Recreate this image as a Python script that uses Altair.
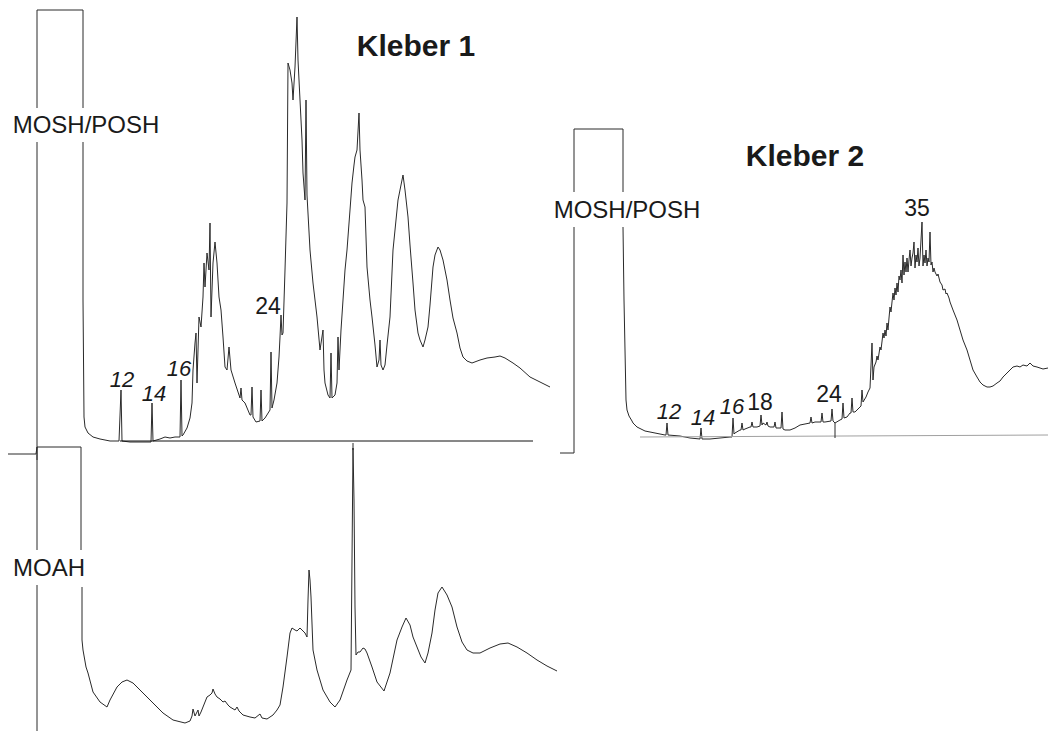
import altair as alt
import pandas as pd

# ---------------- Kleber 1 (MOSH/POSH) trace segments ----------------
K1_LEFT_X = [37, 37]
K1_LEFT_Y = [460, 142]
K1_TOP_X = [37, 37, 83, 83]
K1_TOP_Y = [108, 10, 10, 108]
K1_TRACE_X = [83, 83, 84, 85, 88, 93, 100, 110, 119, 121, 122, 130, 140, 151, 152, 153, 160, 165, 170, 175,
              180, 181, 182, 183, 187, 190, 192, 193, 195, 196, 197, 199, 201, 203, 204, 205, 207, 209, 210, 211,
              213, 215, 217, 219, 221, 223, 225, 227, 229, 231, 235, 240, 241, 242, 245, 250, 251, 252, 253, 256,
              260, 261, 262, 265, 270, 271, 272, 274, 277, 279, 280, 281, 282, 283, 285, 287, 288, 290, 292, 293,
              295, 297, 298, 300, 302, 303, 305, 306, 307, 310, 313, 317, 320, 323, 324, 325, 328, 330, 331, 332,
              335, 337, 338, 339, 341, 343, 345, 347, 350, 352, 354, 355, 357, 359, 360, 362, 363, 365, 367, 370,
              372, 375, 377, 379, 380, 381, 383, 385, 387, 390, 393, 395, 398, 401, 403, 405, 408, 410, 413, 415,
              418, 420, 423, 425, 428, 430, 433, 435, 438, 440, 443, 447, 450, 453, 457, 460, 463, 467, 472, 480,
              487, 495, 500, 505, 513, 520, 530, 540, 550]
K1_TRACE_Y = [142, 300, 417, 427, 433, 437, 439, 441, 441, 390, 441, 442, 442, 442, 403, 441, 439, 437, 438, 437,
              437, 380, 436, 435, 428, 418, 403, 370, 343, 333, 383, 317, 327, 297, 263, 287, 253, 270, 223, 317,
              263, 242, 263, 297, 310, 337, 367, 370, 347, 370, 383, 398, 388, 400, 403, 415, 415, 387, 417, 422,
              421, 390, 421, 418, 410, 352, 408, 400, 383, 357, 337, 315, 335, 333, 270, 203, 63, 70, 83, 100,
              67, 17, 60, 100, 140, 173, 200, 100, 195, 250, 283, 317, 350, 330, 370, 383, 395, 398, 353, 398,
              395, 383, 337, 370, 330, 300, 270, 250, 210, 183, 165, 157, 150, 113, 150, 180, 200, 207, 267, 300,
              317, 345, 367, 360, 340, 365, 370, 365, 345, 317, 250, 230, 200, 185, 175, 190, 217, 245, 283, 310,
              333, 340, 347, 340, 327, 305, 267, 255, 247, 250, 260, 280, 300, 318, 333, 348, 357, 361, 363, 360,
              358, 357, 356, 358, 363, 368, 377, 382, 387]
K1_BASE_X = [120, 533]
K1_BASE_Y = [441, 441]
K1_TICK_X = [353, 353]
K1_TICK_Y = [443, 450]

# ---------------- Kleber 1 (MOAH) trace segments ----------------
MOAH_TOP_X = [8, 36, 37, 81, 81]
MOAH_TOP_Y = [454, 454, 447, 447, 550]
MOAH_LEFT1_X = [37, 37]
MOAH_LEFT1_Y = [447, 550]
MOAH_LEFT2_X = [37, 37]
MOAH_LEFT2_Y = [585, 731]
MOAH_TRACE_X = [82, 82, 83, 86, 88, 93, 100, 107, 110, 117, 122, 127, 133, 143, 153, 163, 173, 185, 190, 192,
                193, 195, 197, 198, 199, 201, 203, 207, 210, 212, 213, 215, 217, 220, 223, 225, 228, 230, 235, 237,
                239, 243, 250, 255, 260, 262, 267, 273, 277, 280, 283, 287, 290, 292, 295, 297, 300, 302, 305, 307,
                308, 309, 310, 311, 313, 317, 323, 330, 335, 340, 347, 351, 352, 353, 354, 355, 356, 358, 360, 363,
                365, 367, 372, 377, 384, 390, 397, 402, 406, 410, 413, 417, 421, 425, 428, 429, 432, 435, 438, 442,
                447, 452, 457, 462, 467, 473, 480, 490, 500, 508, 517, 527, 537, 547, 557]
MOAH_TRACE_Y = [587, 640, 650, 667, 673, 692, 702, 707, 700, 687, 682, 680, 683, 693, 703, 713, 720, 723, 721, 716,
                709, 716, 712, 710, 716, 712, 707, 697, 695, 693, 689, 694, 697, 699, 702, 701, 705, 707, 710, 707,
                711, 715, 717, 718, 714, 718, 719, 715, 710, 705, 687, 657, 633, 628, 630, 631, 628, 630, 633, 637,
                600, 570, 580, 597, 650, 670, 690, 702, 707, 700, 680, 670, 560, 448, 500, 607, 655, 652, 652, 648,
                649, 653, 667, 682, 691, 673, 640, 627, 618, 625, 637, 647, 657, 663, 653, 648, 633, 610, 593, 587,
                595, 607, 627, 642, 650, 653, 653, 648, 644, 643, 647, 653, 660, 666, 671]

# ---------------- Kleber 2 (MOSH/POSH) trace segments ----------------
K2_LEFT_X = [560, 574, 574]
K2_LEFT_Y = [453, 453, 227]
K2_TOP_X = [574, 574, 623, 623]
K2_TOP_Y = [192, 129, 129, 192]
K2_TRACE_X = [623, 624, 626, 627, 629, 632, 633, 637, 645, 655, 665, 666, 667, 668, 680, 690, 700, 701, 702, 710,
              720, 730, 732, 733, 734, 735, 740, 741, 742, 743, 745, 750, 751, 752, 753, 757, 760, 761, 762, 763,
              766, 767, 768, 770, 774, 775, 776, 780, 781, 782, 783, 785, 790, 795, 800, 805, 810, 811, 812, 815,
              821, 822, 823, 825, 831, 832, 833, 835, 840, 842, 843, 844, 847, 850, 851, 852, 853, 855, 857, 860,
              861, 862, 863, 866, 868, 870, 872, 873, 874, 876, 877, 878, 880, 881, 883, 884, 885, 886, 887, 888,
              889, 890, 891, 892, 893, 894, 895, 896, 897, 898, 899, 900, 901, 902, 903, 904, 905, 906, 907, 908,
              909, 910, 911, 912, 913, 914, 915, 916, 917, 918, 919, 920, 921, 922, 923, 924, 925, 926, 927, 928,
              929, 930, 931, 932, 933, 934, 935, 937, 938, 940, 942, 943, 945, 946, 947, 949, 950, 953, 957, 960,
              963, 967, 970, 973, 977, 980, 983, 987, 990, 993, 997, 1000, 1003, 1007, 1010, 1013, 1017, 1020, 1023,
              1027, 1030, 1033, 1037, 1043, 1048]
K2_TRACE_Y = [227, 300, 400, 410, 416, 421, 423, 427, 431, 433, 435, 435, 423, 435, 436, 438, 439, 428, 439, 439,
              438, 437, 437, 418, 434, 433, 430, 430, 423, 430, 429, 427, 427, 422, 427, 427, 426, 415, 425, 423,
              425, 422, 426, 427, 427, 422, 428, 428, 428, 412, 429, 430, 430, 428, 425, 424, 423, 417, 423, 422,
              422, 413, 422, 422, 421, 409, 421, 423, 420, 419, 403, 418, 417, 413, 413, 398, 412, 412, 410, 407,
              406, 390, 402, 397, 392, 388, 343, 380, 367, 362, 356, 360, 347, 350, 333, 338, 330, 336, 323, 330,
              318, 307, 312, 302, 293, 300, 288, 295, 283, 292, 276, 280, 270, 283, 255, 275, 262, 272, 258, 272,
              260, 250, 266, 258, 253, 242, 268, 255, 262, 248, 266, 258, 240, 222, 266, 255, 263, 250, 266, 258,
              262, 232, 265, 262, 272, 268, 272, 276, 274, 282, 285, 290, 289, 294, 293, 298, 302, 310, 320, 330,
              340, 350, 360, 370, 377, 382, 385, 387, 387, 386, 383, 381, 377, 373, 370, 367, 366, 367, 365,
              366, 363, 366, 367, 369, 368]
K2_BASE_X = [640, 1048]
K2_BASE_Y = [437, 435]
K2_TICK_X = [835, 835]
K2_TICK_Y = [423, 438]

# ---------------- labels ----------------
TITLE_TEXT = ["Kleber 1", "Kleber 2"]
TITLE_X = [416, 805]
TITLE_Y = [47, 157]
FRACTION_TEXT = ["MOSH/POSH", "MOSH/POSH", "MOAH"]
FRACTION_X = [86, 627, 49]
FRACTION_Y = [126, 211, 569]
ITALIC_TEXT = ["12", "14", "16", "12", "14", "16"]
ITALIC_X = [122, 154, 179, 669, 703, 732]
ITALIC_Y = [380, 394, 369, 412, 418, 407]
UPRIGHT_TEXT = ["24", "18", "24", "35"]
UPRIGHT_X = [268, 760, 829, 917]
UPRIGHT_Y = [307, 403, 395, 209]

# ---------------- build tables ----------------
def seg(name, xs, ys, kind):
    return pd.DataFrame({"seg": name, "ord": range(len(xs)), "t": xs, "s": ys, "kind": kind})

traces = pd.concat([
    seg("k1_left", K1_LEFT_X, K1_LEFT_Y, "trace"),
    seg("k1_top", K1_TOP_X, K1_TOP_Y, "trace"),
    seg("k1_trace", K1_TRACE_X, K1_TRACE_Y, "trace"),
    seg("k1_base", K1_BASE_X, K1_BASE_Y, "base1"),
    seg("k1_tick", K1_TICK_X, K1_TICK_Y, "trace"),
    seg("moah_top", MOAH_TOP_X, MOAH_TOP_Y, "trace"),
    seg("moah_left1", MOAH_LEFT1_X, MOAH_LEFT1_Y, "trace"),
    seg("moah_left2", MOAH_LEFT2_X, MOAH_LEFT2_Y, "trace"),
    seg("moah_trace", MOAH_TRACE_X, MOAH_TRACE_Y, "trace"),
    seg("k2_left", K2_LEFT_X, K2_LEFT_Y, "trace"),
    seg("k2_top", K2_TOP_X, K2_TOP_Y, "trace"),
    seg("k2_trace", K2_TRACE_X, K2_TRACE_Y, "trace"),
    seg("k2_base", K2_BASE_X, K2_BASE_Y, "base2"),
    seg("k2_tick", K2_TICK_X, K2_TICK_Y, "trace"),
], ignore_index=True)

xs = alt.Scale(domain=[0, 1048], nice=False, zero=False)
ys = alt.Scale(domain=[0, 731], nice=False, zero=False, reverse=True)

X = alt.X("t:Q", scale=xs, axis=None)
Y = alt.Y("s:Q", scale=ys, axis=None)

lines = alt.Chart(traces).mark_line(strokeWidth=1, strokeJoin="miter", interpolate="linear").encode(
    x=X, y=Y, detail="seg:N", order="ord:Q",
    color=alt.Color("kind:N", scale=alt.Scale(domain=["trace", "base1", "base2"],
                                              range=["#2a2a2a", "#111111", "#a0a0a0"]), legend=None),
)

def text_layer(texts, xs_, ys_, size, weight="normal", style="normal"):
    df = pd.DataFrame({"label": texts, "t": xs_, "s": ys_})
    return alt.Chart(df).mark_text(
        font="Liberation Sans", fontSize=size, fontWeight=weight, fontStyle=style,
        align="center", baseline="middle", color="#1a1a1a"
    ).encode(x=X, y=Y, text="label:N")

chart = alt.layer(
    lines,
    text_layer(TITLE_TEXT, TITLE_X, TITLE_Y, 30, weight="bold"),
    text_layer(FRACTION_TEXT, FRACTION_X, FRACTION_Y, 24),
    text_layer(ITALIC_TEXT, ITALIC_X, ITALIC_Y, 22, style="italic"),
    text_layer(UPRIGHT_TEXT, UPRIGHT_X, UPRIGHT_Y, 23),
).properties(
    width=1048, height=731, padding=0, autosize=alt.AutoSizeParams(type="none"),
    background="white",
).configure_view(stroke=None)

chart.save("out.html", embed_options={"renderer": "svg", "actions": False})
